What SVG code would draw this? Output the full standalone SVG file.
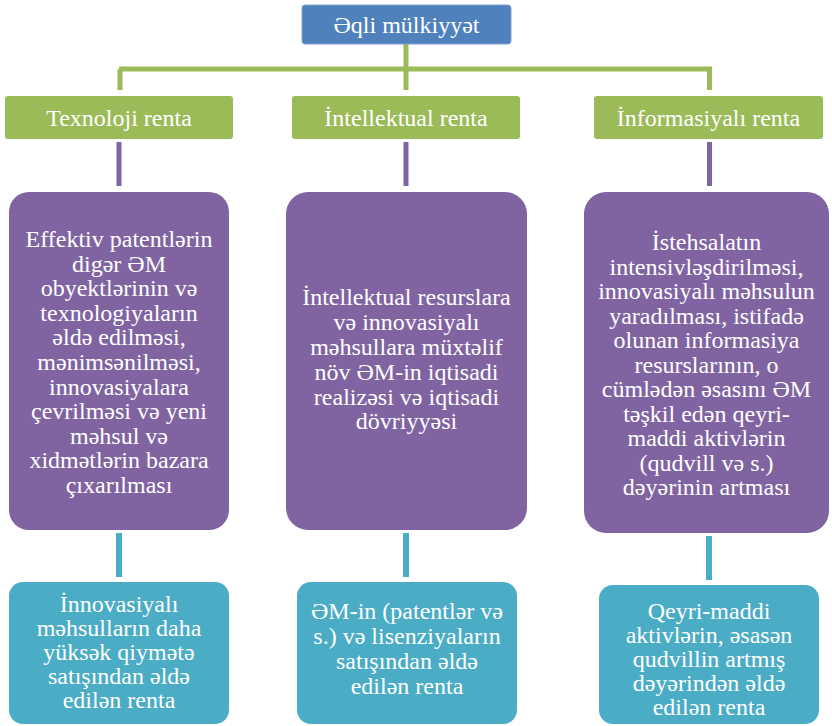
<svg xmlns="http://www.w3.org/2000/svg" width="832" height="726" viewBox="0 0 832 726">
<style>
text{font-size:24px;fill:#fff;text-anchor:middle}
.top{fill:#4F81BD;stroke:#7EA1CF;stroke-width:1}
.green{fill:#9BBB59}
.purple{fill:#8064A2}
.teal{fill:#4BACC6}
.cg{stroke:#9BBB59;stroke-width:5;fill:none}
.cp{stroke:#8064A2;stroke-width:5;fill:none}
.ct{stroke:#4BACC6;stroke-width:6;fill:none}
</style>
<rect width="832" height="726" fill="#fff"/>
<g id="connectors">
<path class="cg" d="M406,44 V69 M119,69 H712 M120,69 V90 M406,69 V90 M709.5,69 V90"/>
<path class="cp" d="M119,142 V186 M406,142 V186 M709.5,142 V186"/>
<path class="ct" d="M119,533 V577 M406,533 V577 M709,536 V580"/>
</g>
<g font-family="Liberation Serif, Tinos, Times New Roman, DejaVu Serif, serif">
<g id="root">
<rect class="top" x="302" y="5" width="209" height="39" rx="3"/>
<text x="406.5" y="33">Əqli mülkiyyət</text>
</g>
<g id="texnoloji">
<rect class="green" x="5" y="96" width="228" height="43" rx="3"/>
<text x="119" y="126">Texnoloji renta</text>
</g>
<g id="intellektual">
<rect class="green" x="292" y="96" width="228" height="43" rx="3"/>
<text x="406" y="126">İntellektual renta</text>
</g>
<g id="informasiyali">
<rect class="green" x="594" y="96" width="229" height="43" rx="3"/>
<text x="708.5" y="126">İnformasiyalı renta</text>
</g>
<g id="p1">
<rect class="purple" x="9" y="192" width="220" height="338" rx="20"/>
<text x="119"><tspan x="119" y="247">Effektiv patentlərin</tspan><tspan x="119" y="271.6">digər ƏM</tspan><tspan x="119" y="296.2">obyektlərinin və</tspan><tspan x="119" y="320.8">texnologiyaların</tspan><tspan x="119" y="345.4">əldə edilməsi,</tspan><tspan x="119" y="370">mənimsənilməsi,</tspan><tspan x="119" y="394.6">innovasiyalara</tspan><tspan x="119" y="419.2">çevrilməsi və yeni</tspan><tspan x="119" y="443.8">məhsul və</tspan><tspan x="119" y="468.4">xidmətlərin bazara</tspan><tspan x="119" y="493">çıxarılması</tspan></text>
</g>
<g id="p2">
<rect class="purple" x="286" y="192" width="241" height="338" rx="22"/>
<text x="406.5"><tspan x="406.5" y="305">İntellektual resurslara</tspan><tspan x="406.5" y="330">və innovasiyalı</tspan><tspan x="406.5" y="355">məhsullara müxtəlif</tspan><tspan x="406.5" y="380">növ ƏM-in iqtisadi</tspan><tspan x="406.5" y="404.5">realizəsi və iqtisadi</tspan><tspan x="406.5" y="429">dövriyyəsi</tspan></text>
</g>
<g id="p3">
<rect class="purple" x="584" y="192" width="245" height="341" rx="22"/>
<text x="706.5"><tspan x="706.5" y="250">İstehsalatın</tspan><tspan x="706.5" y="274.5">intensivləşdirilməsi,</tspan><tspan x="706.5" y="299">innovasiyalı məhsulun</tspan><tspan x="706.5" y="323.5">yaradılması, istifadə</tspan><tspan x="706.5" y="348">olunan informasiya</tspan><tspan x="706.5" y="372.5">resurslarının, o</tspan><tspan x="706.5" y="397">cümlədən əsasını ƏM</tspan><tspan x="706.5" y="421.5">təşkil edən qeyri-</tspan><tspan x="706.5" y="446">maddi aktivlərin</tspan><tspan x="706.5" y="470.5">(qudvill və s.)</tspan><tspan x="706.5" y="495">dəyərinin artması</tspan></text>
</g>
<g id="t1">
<rect class="teal" x="9" y="582" width="220" height="142" rx="14"/>
<text x="119"><tspan x="119" y="612">İnnovasiyalı</tspan><tspan x="119" y="636">məhsulların daha</tspan><tspan x="119" y="660">yüksək qiymətə</tspan><tspan x="119" y="684">satışından əldə</tspan><tspan x="119" y="708">edilən renta</tspan></text>
</g>
<g id="t2">
<rect class="teal" x="297" y="582" width="220" height="142" rx="14"/>
<text x="407"><tspan x="407" y="619">ƏM-in (patentlər və</tspan><tspan x="407" y="644">s.) və lisenziyaların</tspan><tspan x="407" y="669">satışından əldə</tspan><tspan x="407" y="694">edilən renta</tspan></text>
</g>
<g id="t3">
<rect class="teal" x="599" y="585" width="220" height="139" rx="14"/>
<text x="709"><tspan x="709" y="619">Qeyri-maddi</tspan><tspan x="709" y="643">aktivlərin, əsasən</tspan><tspan x="709" y="667">qudvillin artmış</tspan><tspan x="709" y="691">dəyərindən əldə</tspan><tspan x="709" y="715">edilən renta</tspan></text>
</g>
</g>
</svg>
